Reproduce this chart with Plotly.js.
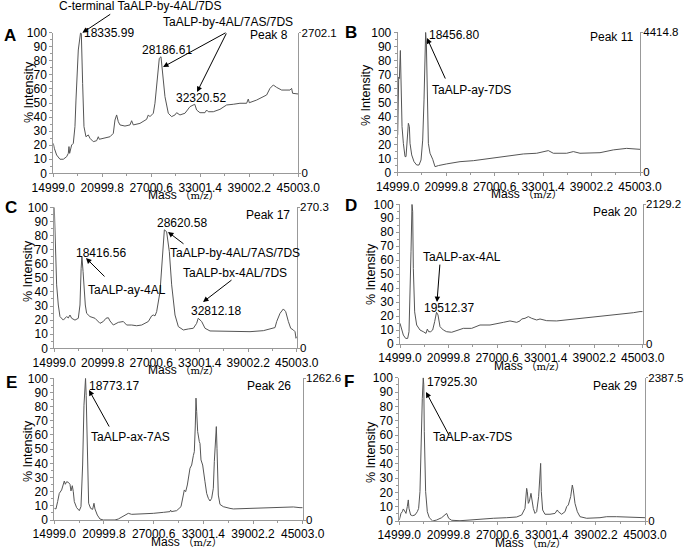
<!DOCTYPE html>
<html>
<head>
<meta charset="utf-8">
<script src="https://cdn.plot.ly/plotly-3.0.1.min.js"></script>
<style>
body { margin: 0; background: #fff; }
#fig { width: 685px; height: 549px; }
</style>
</head>
<body>
<div id="fig"></div>
<script>
"use strict";

// mass axis ticks shared by all six spectra
var xTicks = [14999.0, 20999.8, 27000.6, 33001.4, 39002.2, 45003.0];

// spectra: mass (m/z) and % intensity
var massA = [14999, 15121, 15407, 15815, 16224, 16632, 16836, 16918, 16999, 17244, 17448, 17652, 17775, 18060, 18336, 18430, 18591, 18755, 18999, 19285, 19489, 19897, 20306, 20510, 20632, 21122, 21938, 22347, 22551, 22755, 22959, 23163, 23775, 24388, 24592, 24796, 25612, 26429, 26633, 26837, 27245, 27449, 27653, 27980, 28187, 28389, 28674, 29082, 29490, 29899, 30103, 30511, 31123, 31736, 32321, 32552, 32960, 33572, 33776, 33980, 34593, 35409, 36225, 37042, 37858, 38675, 38879, 39001, 39899, 41124, 41532, 41940, 42348, 42961, 43981, 44185, 44308, 45003];
var pctA = [21.3, 17.8, 13.0, 10.0, 10.0, 11.8, 14.2, 19.0, 14.2, 20.1, 21.3, 33.2, 52.1, 87.7, 100, 99.5, 64, 33.2, 26, 27.3, 24.9, 22.5, 23.2, 26, 24.2, 24.9, 26, 28.4, 37.9, 41.5, 36.7, 34.4, 33.6, 34.4, 37.4, 34.4, 35.5, 38.4, 41.5, 40.3, 42.7, 49.8, 64, 81.8, 82.9, 71.1, 54.5, 42.7, 40.3, 41.5, 43.1, 41.5, 42.7, 47.4, 49.1, 45.0, 43.1, 43.1, 45.0, 43.8, 43.8, 45.5, 48.6, 49.1, 49.8, 49.8, 52.8, 50.2, 52.1, 55.7, 60.4, 62.8, 61.1, 59.2, 59.2, 60.4, 56.9, 56.4];

var massB = [14999, 15123, 15205, 15329, 15412, 15536, 15701, 15907, 16031, 16196, 16320, 16443, 16526, 16732, 17021, 17351, 17640, 17888, 18094, 18259, 18383, 18457, 18548, 18672, 18796, 19002, 19332, 19621, 20034, 21066, 22717, 24367, 26430, 28494, 30558, 32208, 33446, 33652, 34271, 35922, 36747, 37573, 40049, 41700, 43350, 44588, 45003];
var pctB = [26.7, 68, 67, 87, 65.5, 32.6, 20.7, 11.2, 11.2, 23, 35, 32.6, 20.7, 12.4, 7.6, 5.2, 5.2, 8.8, 23, 51.7, 89.8, 100, 92, 51.7, 20.7, 13.6, 9.3, 4, 4.8, 6, 7.6, 8.3, 10, 11.7, 13.1, 13.6, 14.8, 15.5, 13.6, 13.6, 14.8, 13.6, 14, 16, 17.1, 16.7, 16.4];

var massC = [14999, 15123, 15288, 15494, 15701, 16113, 16526, 16732, 16939, 17145, 17558, 17970, 18177, 18320, 18417, 18560, 18837, 19002, 19415, 20034, 20653, 21066, 21396, 21685, 21891, 22304, 22923, 23542, 23955, 24574, 25193, 25812, 26637, 27050, 27256, 27463, 27669, 28082, 28430, 28621, 28900, 29237, 29526, 29939, 30351, 30970, 31590, 32208, 32621, 32812, 33240, 33653, 34272, 35097, 37160, 39224, 40875, 41907, 42320, 42526, 42939, 43351, 43640, 43971, 44260, 44590, 44796, 44920, 45003];
var pctC = [100, 80, 45, 30.7, 22.5, 20, 22.5, 21.5, 23.6, 21.3, 20, 21.3, 30.7, 56.7, 65, 54.4, 30.7, 24.8, 22.5, 21.3, 17.7, 19, 21.3, 21.7, 19.4, 16.5, 18.4, 19, 16.5, 16.5, 16, 16.5, 19, 23, 23.6, 23, 26, 40, 68.5, 84, 82.7, 68.5, 45, 23.6, 15.4, 13, 13.7, 14.2, 17.7, 21.3, 19, 14.2, 12.3, 12.3, 11.8, 11.8, 12.5, 14.2, 14.7, 19, 24.8, 27.9, 26, 19, 14.2, 13, 11.8, 7.1, 8.3];

var massD = [14999, 15205, 15411, 15700, 15947, 16112, 16235, 16359, 16483, 16565, 16647, 16812, 17060, 17472, 17884, 18213, 18378, 18543, 18790, 19038, 19285, 19512, 19697, 19944, 20356, 20768, 21387, 22005, 22623, 22829, 23859, 24477, 24889, 26126, 26950, 27774, 28598, 29010, 29423, 29835, 30041, 30453, 30865, 31277, 31895, 32307, 33131, 34368, 35604, 37252, 38901, 40549, 42198, 43846, 44670, 45003];
var pctD = [14.8, 10, 6.4, 4, 4, 8.8, 30.3, 66, 100, 95, 54, 23, 13.6, 10, 8.8, 7.6, 10.7, 8.8, 8.8, 10, 16, 22.7, 20.8, 12.4, 10, 8.8, 8.4, 9.5, 10.7, 11.2, 11.2, 12.4, 13.6, 13.6, 14.8, 15.5, 16.5, 16, 15.5, 16.5, 17.9, 18.4, 19.6, 18.4, 17.2, 17.9, 16.7, 16.5, 17.2, 18.4, 19.6, 20, 21.2, 22.4, 23.2, 23.2];

var massE = [14999, 15200, 15402, 15603, 15885, 16086, 16207, 16328, 16489, 16690, 16892, 17013, 17174, 17294, 17415, 17697, 18019, 18221, 18422, 18583, 18773, 18850, 18986, 19147, 19388, 19630, 19791, 19912, 20194, 20516, 20918, 21724, 22328, 22731, 23335, 23939, 24342, 25348, 26959, 28167, 28972, 29053, 29134, 29778, 30302, 30583, 30704, 30866, 31067, 31389, 31590, 31792, 31912, 32033, 32114, 32194, 32315, 32516, 32597, 32718, 32919, 33201, 33402, 33604, 33805, 34006, 34207, 34328, 34409, 34489, 34570, 34650, 34811, 35012, 35415, 36221, 36624, 38637, 40651, 42664, 43872, 44677, 45003];
var pctE = [8.2, 7.8, 13, 18.8, 21.2, 24.7, 27.5, 25.2, 27, 26.6, 25.2, 20.5, 24.2, 20, 13, 8.7, 6.6, 9.4, 38.8, 81, 100, 88, 38.8, 11.8, 8.2, 7.5, 11.8, 7.8, 3.5, 0.7, 0, 0, 0, 0.7, 3, 4.7, 4, 4.2, 4.7, 5.4, 5.9, 7, 5.9, 6.6, 9.4, 17.6, 21.2, 20, 24.7, 36.5, 38.8, 45.4, 48.2, 67, 86, 76.5, 62.4, 55.3, 54, 42.4, 38.8, 27, 18.8, 15.3, 13.4, 15.3, 22.4, 41.2, 48.2, 62.4, 65.9, 50.6, 17.6, 11, 9.4, 8.2, 7.8, 8.2, 8.5, 8.7, 9.2, 8.7, 8.7];

var massF = [14999, 15203, 15365, 15488, 15650, 15813, 15976, 16098, 16180, 16383, 16627, 16912, 17197, 17360, 17523, 17686, 17808, 17925, 17990, 18052, 18215, 18419, 18663, 19070, 19559, 20169, 20576, 20780, 20861, 21024, 21390, 22408, 23630, 24851, 26479, 28108, 29329, 29940, 30347, 30551, 30632, 30754, 30876, 31079, 31161, 31364, 31568, 31772, 32016, 32179, 32260, 32341, 32504, 32789, 33400, 34011, 34296, 34418, 34825, 35232, 35436, 35640, 35925, 36128, 36250, 36454, 36739, 37065, 37879, 39507, 40321, 41543, 42764, 44393, 45003];
var pctF = [0.7, 5.3, 6.5, 8.4, 7, 5.3, 10, 14.7, 8.8, 4.2, 3.7, 4.2, 6.5, 8.8, 20.5, 62.3, 85.6, 100, 95, 62.3, 20.5, 6.5, 2.3, 0, 0.7, 2.3, 4.2, 5.3, 4.2, 1.9, 0.5, 0.2, 0.7, 1.4, 1.9, 2.3, 2.8, 4.2, 8.8, 22.8, 20.5, 12.3, 13.5, 19.3, 15.8, 8.8, 5.3, 6.5, 17, 39, 40.2, 20.5, 7.7, 4.7, 4.7, 5.3, 7.7, 6.5, 4.7, 6.5, 10, 11.2, 17, 25.1, 21.6, 12.3, 6.5, 3, 1.9, 2.3, 3, 3, 2.6, 2.3, 2.3];

var panelLetters = ['A', 'B', 'C', 'D', 'E', 'F'];
var peakNames = ['Peak 8', 'Peak 11', 'Peak 17', 'Peak 20', 'Peak 26', 'Peak 29'];
var rightMax = ['2702.1', '4414.8', '270.3', '2129.2', '1262.6', '2387.5'];
var masses = [massA, massB, massC, massD, massE, massF];
var pcts = [pctA, pctB, pctC, pctD, pctE, pctF];

var W = 685, H = 549;
var FONT = 'Liberation Sans, Arial, Noto Sans CJK SC, sans-serif';
var LINE = '#999';

// plot boxes in pixels: left, right, top, bottom
var boxes = [
	[53.3, 298.3, 32.7, 173.3],
	[397.7, 640, 32.3, 172.3],
	[54.3, 296.7, 207.3, 348.3],
	[400, 642.7, 204.3, 344],
	[54.3, 302.7, 378.3, 520],
	[399.3, 645, 377.7, 521]
];
// letter and y-title positions in pixels
var letterPos = [[10, 35], [351, 33], [11, 207], [351, 205], [11, 382], [349, 381]];
var ytitlePos = [[29, 92], [366, 95], [28, 271], [371, 274], [28, 451], [371, 452]];

function ax(i){ return i === 0 ? '' : String(i + 1); }

var data = [];
var layout = {
	width: W, height: H,
	margin: {l: 0, r: 0, t: 0, b: 0},
	paper_bgcolor: '#fff', plot_bgcolor: '#fff',
	showlegend: false,
	font: {family: FONT, size: 12, color: '#000'},
	annotations: []
};

for(let i = 0; i < 6; i++){
	const b = boxes[i];
	const n = ax(i);
	data.push({
		x: masses[i], y: pcts[i],
		xaxis: 'x' + n, yaxis: 'y' + n,
		type: 'scatter', mode: 'lines',
		line: {color: '#555', width: 1},
		hoverinfo: 'skip'
	});
	// empty trace so the right-hand intensity axis gets drawn
	data.push({
		x: [], y: [],
		xaxis: 'x' + n, yaxis: 'y' + (i + 7),
		type: 'scatter', mode: 'lines', hoverinfo: 'skip'
	});
	layout['xaxis' + n] = {
		domain: [b[0] / W, b[1] / W],
		anchor: 'y' + n,
		range: [14999, 45003],
		tickmode: 'array', tickvals: xTicks,
		ticktext: xTicks.map(v => v.toFixed(1)),
		ticks: 'outside', ticklen: 3, tickcolor: LINE,
		minor: {tick0: 14999, dtick: 3000.4, ticks: 'outside', ticklen: 2, tickcolor: LINE},
		showline: true, linecolor: LINE, linewidth: 1,
		showgrid: false, zeroline: false,
		tickfont: {size: 12}
	};
	layout['yaxis' + n] = {
		domain: [1 - b[3] / H, 1 - b[2] / H],
		anchor: 'x' + n,
		range: [0, 100],
		tickmode: 'array', tickvals: [0,10,20,30,40,50,60,70,80,90,100],
		ticks: 'outside', ticklen: 3, tickcolor: LINE,
		minor: {dtick: 5, ticks: 'outside', ticklen: 2, tickcolor: LINE},
		showline: true, linecolor: LINE, linewidth: 1,
		showgrid: false, zeroline: false,
		tickfont: {size: 12}
	};
	layout['yaxis' + (i + 7)] = {
		overlaying: 'y' + n,
		anchor: 'x' + n,
		side: 'right',
		range: [0, 100],
		tickmode: 'array', tickvals: [0, 100], ticktext: ['0', rightMax[i]],
		ticks: 'outside', ticklen: 2, tickcolor: LINE,
		ticklabelstandoff: -2,
		showline: true, linecolor: LINE, linewidth: 1,
		showgrid: false, zeroline: false,
		tickfont: {size: 11.5}
	};
	// panel letter
	layout.annotations.push({
		xref: 'paper', yref: 'paper',
		x: letterPos[i][0] / W, y: 1 - letterPos[i][1] / H,
		text: '<b>' + panelLetters[i] + '</b>', showarrow: false,
		xanchor: 'center', yanchor: 'middle',
		font: {size: 17}
	});
	// y title
	layout.annotations.push({
		xref: 'paper', yref: 'paper',
		x: ytitlePos[i][0] / W, y: 1 - ytitlePos[i][1] / H,
		text: '% Intensity', showarrow: false, textangle: -90,
		xanchor: 'center', yanchor: 'middle',
		font: {size: 12.5}
	});
	// x title
	layout.annotations.push({
		xref: 'paper', yref: 'paper',
		x: ((b[0] + b[1]) / 2 + 8) / W, y: 1 - (b[3] + 21.5) / H,
		text: 'Mass <span style="font-size:10.5px">（</span><span style="font-family:DejaVu Serif;font-size:10px">m/z</span><span style="font-size:10.5px">）</span>',
		showarrow: false, xanchor: 'center', yanchor: 'middle',
		font: {size: 12}
	});
}

// peak tags placed in data coordinates
var tagMass = [43995, 44388, 44422, 44540, 43834, 44268];
var tagPct = [98.4, 96.6, 94.5, 94.3, 94.6, 94.2];
for(let i = 0; i < 6; i++){
	layout.annotations.push(note(i, peakNames[i], tagMass[i], tagPct[i], 'right'));
}

function note(i, text, x, y, xanchor){
	const n = ax(i);
	return {
		xref: 'x' + n, yref: 'y' + n, x: x, y: y,
		text: text, showarrow: false,
		xanchor: xanchor || 'center', yanchor: 'middle',
		font: {size: 12}
	};
}

function arrow(i, x, y, tx, ty){
	const n = ax(i);
	return {
		xref: 'x' + n, yref: 'y' + n, axref: 'x' + n, ayref: 'y' + n,
		x: x, y: y, ax: tx, ay: ty, text: '',
		showarrow: true, arrowhead: 2, arrowsize: 1.1, arrowwidth: 1,
		arrowcolor: '#000', standoff: 0, startstandoff: 0
	};
}

// labels above the top of panel A sit in paper space
function paperNote(text, px, py){
	return {
		xref: 'paper', yref: 'paper', x: px / W, y: 1 - py / H,
		text: text, showarrow: false, xanchor: 'center', yanchor: 'middle',
		font: {size: 12}
	};
}

var notes = [
	// A
	paperNote('C-terminal TaALP-by-4AL/7DS', 140, 6),
	arrow(0, 18560, 99.9, 22153, 113.8),
	note(0, '18335.99', 18515, 99.8, 'left'),
	note(0, '28186.61', 28927, 87.7),
	paperNote('TaALP-by-4AL/7AS/7DS', 228, 22),
	arrow(0, 28438, 75.6, 36277, 100.5),
	arrow(0, 32602, 57.8, 36277, 100.5),
	note(0, '32320.52', 33092, 53.6),
	// B
	note(1, '18456.80', 18626, 98.1, 'left'),
	arrow(1, 18626, 95.9, 20978, 65.9),
	note(1, 'TaALP-ay-7DS', 18998, 58.8, 'left'),
	// C
	note(2, '28620.58', 30808, 88.9),
	arrow(2, 29075, 82.5, 31179, 73.3),
	note(2, 'TaALP-by-4AL/7AS/7DS', 29075, 67.6, 'left'),
	note(2, '18416.56', 20780, 67.6),
	arrow(2, 18923, 64, 21399, 49.9),
	note(2, 'TaALP-ay-4AL', 18923, 41.3, 'left'),
	note(2, 'TaALP-bx-4AL/7DS', 37369, 53.4),
	arrow(2, 33408, 32.8, 37122, 49.2),
	note(2, '32812.18', 35018, 26.5),
	// D
	note(3, 'TaALP-ax-4AL', 22662, 62.1),
	arrow(3, 19572, 30, 19943, 57.9),
	note(3, '19512.37', 21055, 25.7),
	// E
	note(4, '18773.17', 18949, 94.6, 'left'),
	arrow(4, 19191, 91.7, 21728, 64.9),
	note(4, 'TaALP-ax-7AS', 19191, 58.6, 'left'),
	// F
	note(5, '17925.30', 18137, 97, 'left'),
	arrow(5, 18259, 90, 21190, 58.6),
	note(5, 'TaALP-ax-7DS', 18869, 58.6, 'left')
];
layout.annotations = layout.annotations.concat(notes);

Plotly.newPlot('fig', data, layout, {staticPlot: true});
</script>
</body>
</html>
